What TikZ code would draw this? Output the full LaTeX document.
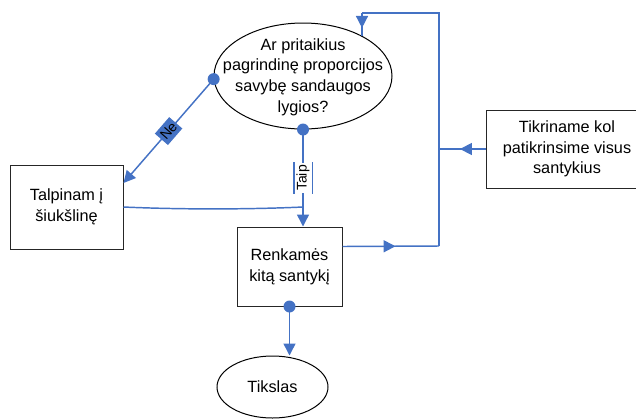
\documentclass[tikz,border=0pt]{standalone}
\usepackage{fontspec}
\setmainfont{Liberation Sans}
\usetikzlibrary{shapes.geometric,arrows.meta,decorations.markings}
\definecolor{flow}{HTML}{4472C4}
\begin{document}
\begin{tikzpicture}[x=0.75pt,y=-0.75pt,
  txt/.style={font=\fontsize{12.2}{15.5}\selectfont, align=center, inner sep=0pt},
  stepbox/.style={draw=black!85, line width=0.75pt, rectangle},
  oval/.style={draw=black, line width=0.75pt, ellipse},
  link/.style={draw=flow, line width=1.1pt},
  tip/.style={-{Triangle[length=9pt,width=9pt]}},
  midtip/.style={postaction={decorate},
    decoration={markings, mark=at position #1 with {\arrow{Triangle[length=9pt,width=9pt]}}}},
  dot/.style={circle, fill=flow, inner sep=0pt, minimum size=9pt},
  lbl/.style={font=\fontsize{10.5}{12}\selectfont, inner sep=1.5pt}
]
\useasboundingbox (0,0) rectangle (636,419);

% shapes
\node[oval, minimum width=133.5pt, minimum height=79.5pt] (q) at (303,76) {};
\node[txt] (qt) at (303,77) {Ar pritaikius\\pagrindinę proporcijos\\savybę sandaugos\\lygios?};
\node[stepbox, minimum width=84.75pt, minimum height=63pt] (t) at (66.5,207) {};
\node[txt] (tt) at (t) {Talpinam į\\šiukšlinę};
\node[stepbox, minimum width=78.75pt, minimum height=59.25pt] (r) at (289.5,266.5) {};
\node[txt] (rt) at (r) {Renkamės\\kitą santykį};
\node[stepbox, minimum width=121.5pt, minimum height=58.5pt] (k) at (567,149) {};
\node[txt] (kt) at (k) {Tikriname kol\\patikrinsime visus\\santykius};
\node[oval, minimum width=83.25pt, minimum height=46.5pt] (s) at (272.5,387) {};
\node[txt] (st) at (s) {Tikslas};

% junction points of the loop
\coordinate (c1) at (439,246);
\coordinate (c2) at (439,13);
\coordinate (c3) at (362,13);
\coordinate (j) at (q.south |- t.east);

% "Ne" branch
\draw[link, tip] (q.182) -- node[lbl, sloped, fill=flow, minimum height=13pt] (ne) {Ne} ([yshift=18pt]t.east);
% "Taip" branch
\draw[link, tip] (q.south) -- node[lbl, rotate=90, fill=white] (taip) {Taip} (q.south |- r.north);
\draw[flow, line width=1.5pt] (taip.north west) -- (taip.north east);
\draw[flow, line width=0.6pt] (taip.south west) -- (taip.south east);
% discarded ratio joins the flow
\draw[link] (t.east) .. controls (190,210) and (260,209) .. (j);
% to the goal
\draw[link, tip] (r.south) -- (r.south |- s.north);
% loop back to the question
\draw[link, midtip=0.55] ([yshift=15pt]r.east) -- (c1);
\draw[link] (c1) -- (c2) -- (c3);
\draw[link, midtip=0.65] (c3) -- (c3 |- q.34);
\draw[link, midtip=0.55] (k.west) -- (c1 |- k.west);

% connection dots
\node[dot] (d1) at (q.182) {};
\node[dot] (d2) at (q.south) {};
\node[dot] (d3) at (r.south) {};
\end{tikzpicture}
\end{document}
